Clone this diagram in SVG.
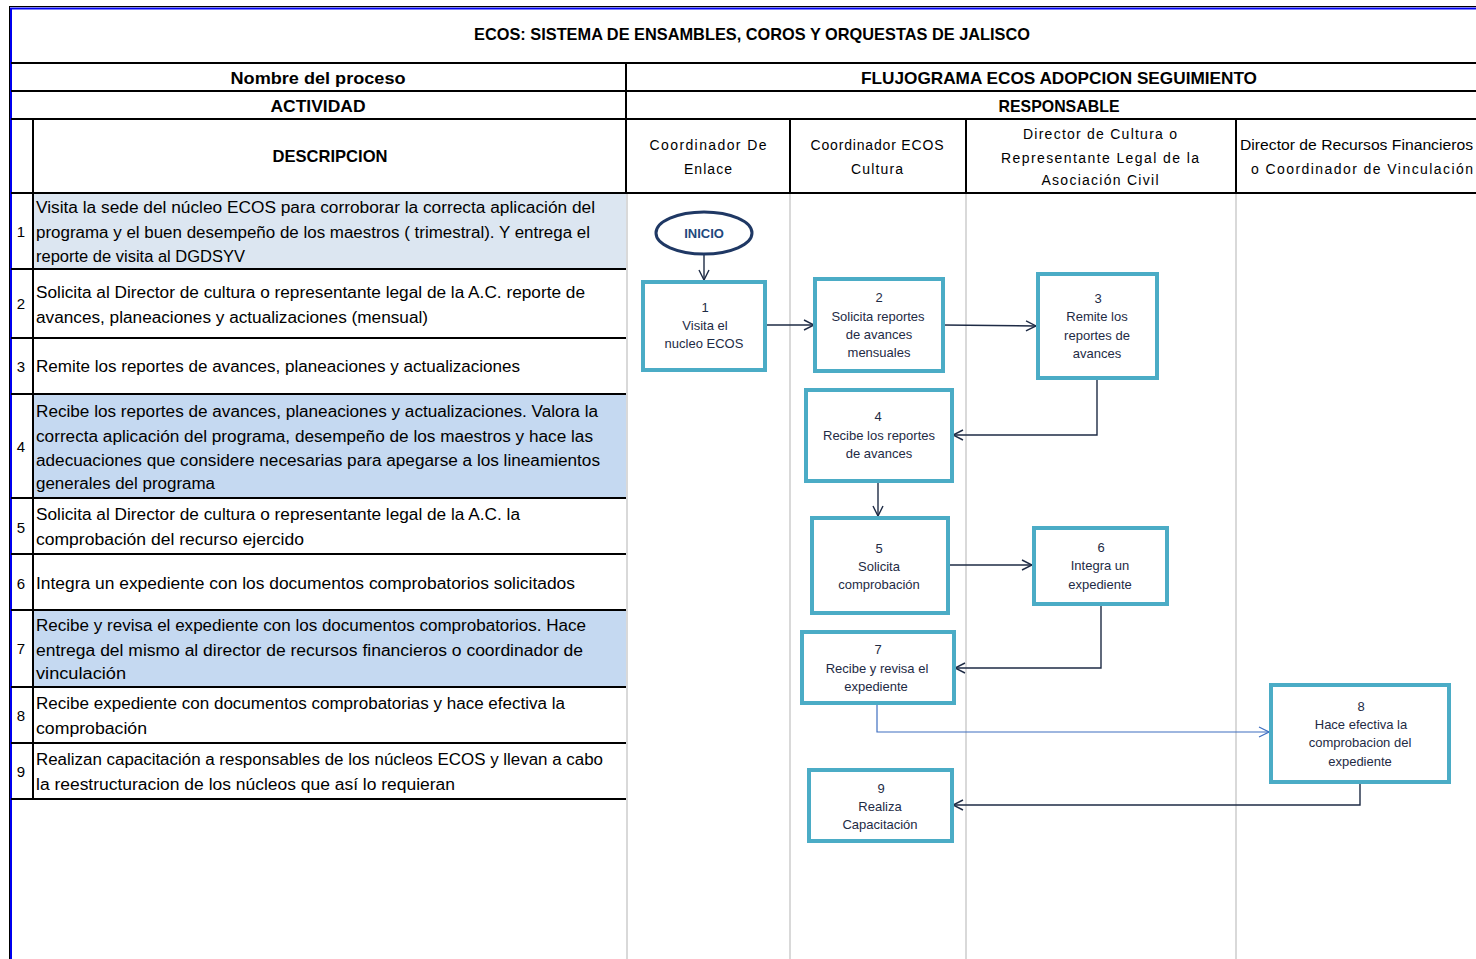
<svg xmlns="http://www.w3.org/2000/svg" width="1476" height="959" viewBox="0 0 1476 959">
<style>
.t{font-family:"Liberation Sans",Arial,sans-serif;fill:#000}
.hb{font-family:"Liberation Sans",Arial,sans-serif;font-weight:bold;font-size:17px;fill:#000;text-anchor:middle}
.d{font-family:"Liberation Sans",Arial,sans-serif;font-size:16px;fill:#000}
.n{font-family:"Liberation Sans",Arial,sans-serif;font-size:15px;fill:#000;text-anchor:middle}
.lh{font-family:"Liberation Sans",Arial,sans-serif;font-size:14px;fill:#000;text-anchor:middle}
.bx{fill:#fff;stroke:#4BACC6;stroke-width:4}
.bt{font-family:"Liberation Sans",Arial,sans-serif;font-size:13px;fill:#1e2b45;text-anchor:middle}
.g{stroke:#000;stroke-width:2;fill:none}
.lane{stroke:#d9d9d9;stroke-width:2}
.c{stroke:#1e2b45;stroke-width:1.4;fill:none}
.cb{stroke:#3F6FC0;stroke-width:1.2;fill:none}
</style>
<defs>
<marker id="ar" viewBox="0 0 12 12" refX="11" refY="6" markerWidth="12" markerHeight="12" markerUnits="userSpaceOnUse" orient="auto">
<path d="M1,1 L11,6 L1,11" fill="none" stroke="#1e2b45" stroke-width="1.4"/>
</marker>
<marker id="arb" viewBox="0 0 12 12" refX="11" refY="6" markerWidth="12" markerHeight="12" markerUnits="userSpaceOnUse" orient="auto">
<path d="M1,1 L11,6 L1,11" fill="none" stroke="#3F6FC0" stroke-width="1.2"/>
</marker>
</defs>
<rect x="0" y="0" width="1476" height="959" fill="#fff"/>

<g id="table">
<rect x="34" y="194" width="592" height="75" fill="#DCE6F1"/>
<rect x="34" y="395" width="592" height="103" fill="#C5D9F1"/>
<rect x="34" y="611" width="592" height="76" fill="#C5D9F1"/>
<line class="lane" x1="627" y1="193" x2="627" y2="959"/>
<line class="lane" x1="790" y1="193" x2="790" y2="959"/>
<line class="lane" x1="966" y1="193" x2="966" y2="959"/>
<line class="lane" x1="1236" y1="193" x2="1236" y2="959"/>
<line x1="9" y1="6.5" x2="1476" y2="6.5" stroke="#000" stroke-width="1"/>
<line x1="10" y1="8.5" x2="1476" y2="8.5" stroke="#0000EE" stroke-width="2"/>
<line x1="9.5" y1="6" x2="9.5" y2="959" stroke="#000" stroke-width="1"/>
<line x1="11" y1="8" x2="11" y2="959" stroke="#0000EE" stroke-width="2"/>
<line class="g" x1="11" y1="63" x2="1476" y2="63"/>
<line class="g" x1="11" y1="91" x2="1476" y2="91"/>
<line class="g" x1="11" y1="119" x2="1476" y2="119"/>
<line class="g" x1="11" y1="193" x2="1476" y2="193"/>
<line class="g" x1="626" y1="63" x2="626" y2="193"/>
<line class="g" x1="790" y1="119" x2="790" y2="193"/>
<line class="g" x1="966" y1="119" x2="966" y2="193"/>
<line class="g" x1="1236" y1="119" x2="1236" y2="193"/>
<line class="g" x1="33" y1="119" x2="33" y2="799"/>
<line class="g" x1="11" y1="269" x2="626" y2="269"/>
<line class="g" x1="11" y1="338" x2="626" y2="338"/>
<line class="g" x1="11" y1="394" x2="626" y2="394"/>
<line class="g" x1="11" y1="498" x2="626" y2="498"/>
<line class="g" x1="11" y1="554" x2="626" y2="554"/>
<line class="g" x1="11" y1="610" x2="626" y2="610"/>
<line class="g" x1="11" y1="687" x2="626" y2="687"/>
<line class="g" x1="11" y1="743" x2="626" y2="743"/>
<line class="g" x1="11" y1="799" x2="626" y2="799"/>

<text class="hb" x="752" y="40" textLength="556" lengthAdjust="spacingAndGlyphs">ECOS: SISTEMA DE ENSAMBLES, COROS Y ORQUESTAS DE JALISCO</text>
<text class="hb" x="318" y="84" font-size="18" textLength="175" lengthAdjust="spacingAndGlyphs">Nombre del proceso</text>
<text class="hb" x="1059" y="84" font-size="18" textLength="396" lengthAdjust="spacingAndGlyphs">FLUJOGRAMA ECOS ADOPCION SEGUIMIENTO</text>
<text class="hb" x="318" y="112" font-size="18" textLength="95" lengthAdjust="spacingAndGlyphs">ACTIVIDAD</text>
<text class="hb" x="1059" y="112" font-size="18" textLength="121" lengthAdjust="spacingAndGlyphs">RESPONSABLE</text>
<text class="hb" x="330" y="162" font-size="18" textLength="115" lengthAdjust="spacingAndGlyphs">DESCRIPCION</text>

<text class="lh" x="708" y="150" textLength="117">Coordinador De</text>
<text class="lh" x="708" y="174" textLength="48">Enlace</text>
<text class="lh" x="877" y="150" textLength="133">Coordinador ECOS</text>
<text class="lh" x="877" y="174" textLength="52">Cultura</text>
<text class="lh" x="1100" y="139" textLength="154">Director de Cultura o</text>
<text class="lh" x="1100" y="163" textLength="198">Representante Legal de la</text>
<text class="lh" x="1100" y="185" textLength="117">Asociación Civil</text>
<text class="lh" x="1240" y="150" style="text-anchor:start" textLength="233" lengthAdjust="spacingAndGlyphs">Director de Recursos Financieros</text>
<text class="lh" x="1251" y="174" style="text-anchor:start" textLength="222">o Coordinador de Vinculación</text>

<text class="n" x="21" y="237">1</text>
<text class="n" x="21" y="309">2</text>
<text class="n" x="21" y="372">3</text>
<text class="n" x="21" y="452">4</text>
<text class="n" x="21" y="533">5</text>
<text class="n" x="21" y="589">6</text>
<text class="n" x="21" y="654">7</text>
<text class="n" x="21" y="721">8</text>
<text class="n" x="21" y="777">9</text>

<text class="d" x="36" y="213" textLength="559" lengthAdjust="spacingAndGlyphs">Visita la sede del núcleo ECOS para corroborar la correcta aplicación del</text>
<text class="d" x="36" y="238" textLength="554" lengthAdjust="spacingAndGlyphs">programa y el buen desempeño de los maestros ( trimestral). Y entrega el</text>
<text class="d" x="36" y="262" textLength="209" lengthAdjust="spacingAndGlyphs">reporte de visita al DGDSYV</text>

<text class="d" x="36" y="298" textLength="549" lengthAdjust="spacingAndGlyphs">Solicita al Director de cultura o representante legal de la A.C. reporte de</text>
<text class="d" x="36" y="323" textLength="392" lengthAdjust="spacingAndGlyphs">avances, planeaciones y actualizaciones (mensual)</text>

<text class="d" x="36" y="372" textLength="484" lengthAdjust="spacingAndGlyphs">Remite los reportes de avances, planeaciones y actualizaciones</text>

<text class="d" x="36" y="417" textLength="562" lengthAdjust="spacingAndGlyphs">Recibe los reportes de avances, planeaciones y actualizaciones. Valora la</text>
<text class="d" x="36" y="442" textLength="557" lengthAdjust="spacingAndGlyphs">correcta aplicación del programa, desempeño de los maestros y hace las</text>
<text class="d" x="36" y="466" textLength="564" lengthAdjust="spacingAndGlyphs">adecuaciones que considere necesarias para apegarse a los lineamientos</text>
<text class="d" x="36" y="489" textLength="179" lengthAdjust="spacingAndGlyphs">generales del programa</text>

<text class="d" x="36" y="520" textLength="484" lengthAdjust="spacingAndGlyphs">Solicita al Director de cultura o representante legal de la A.C. la</text>
<text class="d" x="36" y="545" textLength="268" lengthAdjust="spacingAndGlyphs">comprobación del recurso ejercido</text>

<text class="d" x="36" y="589" textLength="539" lengthAdjust="spacingAndGlyphs">Integra un expediente con los documentos comprobatorios solicitados</text>

<text class="d" x="36" y="631" textLength="550" lengthAdjust="spacingAndGlyphs">Recibe y revisa el expediente con los documentos comprobatorios. Hace</text>
<text class="d" x="36" y="656" textLength="547" lengthAdjust="spacingAndGlyphs">entrega del mismo al director de recursos financieros o coordinador de</text>
<text class="d" x="36" y="679" textLength="90" lengthAdjust="spacingAndGlyphs">vinculación</text>

<text class="d" x="36" y="709" textLength="529" lengthAdjust="spacingAndGlyphs">Recibe expediente con documentos comprobatorias y hace efectiva la</text>
<text class="d" x="36" y="734" textLength="111" lengthAdjust="spacingAndGlyphs">comprobación</text>

<text class="d" x="36" y="765" textLength="567" lengthAdjust="spacingAndGlyphs">Realizan capacitación a responsables de los núcleos ECOS y llevan a cabo</text>
<text class="d" x="36" y="790" textLength="419" lengthAdjust="spacingAndGlyphs">la reestructuracion de los núcleos que así lo requieran</text>
</g>

<g id="connectors">
<line class="c" x1="704" y1="255" x2="704" y2="280" marker-end="url(#ar)"/>
<line class="c" x1="765" y1="325" x2="814" y2="325" marker-end="url(#ar)"/>
<line class="c" x1="943" y1="325" x2="1036" y2="326" marker-end="url(#ar)"/>
<polyline class="c" points="1097,378 1097,435 953,435" marker-end="url(#ar)"/>
<line class="c" x1="878" y1="481" x2="878" y2="516" marker-end="url(#ar)"/>
<line class="c" x1="948" y1="565" x2="1032" y2="565" marker-end="url(#ar)"/>
<polyline class="c" points="1101,604 1101,668 955,668" marker-end="url(#ar)"/>
<polyline class="cb" points="877,703 877,732 1269,732" marker-end="url(#arb)"/>
<polyline class="c" points="1360,782 1360,805 953,805" marker-end="url(#ar)"/>
</g>

<g id="inicio">
<ellipse cx="704" cy="233" rx="48" ry="21" fill="#fff" stroke="#1F3864" stroke-width="3"/>
<text x="704" y="238" text-anchor="middle" font-family="Liberation Sans, Arial, sans-serif" font-weight="bold" font-size="13" fill="#1F497D">INICIO</text>
</g>

<g id="n1">
<rect class="bx" x="643" y="282" width="122" height="88"/>
<text class="bt" x="705" y="312">1</text>
<text class="bt" x="705" y="330">Visita  el</text>
<text class="bt" x="704" y="348">nucleo ECOS</text>
</g>
<g id="n2">
<rect class="bx" x="815" y="279" width="128" height="92"/>
<text class="bt" x="879" y="302">2</text>
<text class="bt" x="878" y="321">Solicita reportes</text>
<text class="bt" x="879" y="339">de avances</text>
<text class="bt" x="879" y="357">mensuales</text>
</g>
<g id="n3">
<rect class="bx" x="1038" y="274" width="119" height="104"/>
<text class="bt" x="1098" y="303">3</text>
<text class="bt" x="1097" y="321">Remite los</text>
<text class="bt" x="1097" y="340">reportes de</text>
<text class="bt" x="1097" y="358">avances</text>
</g>
<g id="n4">
<rect class="bx" x="806" y="390" width="146" height="91"/>
<text class="bt" x="878" y="421">4</text>
<text class="bt" x="879" y="440">Recibe los reportes</text>
<text class="bt" x="879" y="458">de avances</text>
</g>
<g id="n5">
<rect class="bx" x="812" y="518" width="136" height="95"/>
<text class="bt" x="879" y="553">5</text>
<text class="bt" x="879" y="571">Solicita</text>
<text class="bt" x="879" y="589">comprobación</text>
</g>
<g id="n6">
<rect class="bx" x="1034" y="528" width="133" height="76"/>
<text class="bt" x="1101" y="552">6</text>
<text class="bt" x="1100" y="570">Integra un</text>
<text class="bt" x="1100" y="589">expediente</text>
</g>
<g id="n7">
<rect class="bx" x="802" y="632" width="152" height="71"/>
<text class="bt" x="878" y="654">7</text>
<text class="bt" x="877" y="673">Recibe y revisa el</text>
<text class="bt" x="876" y="691">expediente</text>
</g>
<g id="n8">
<rect class="bx" x="1271" y="685" width="178" height="97"/>
<text class="bt" x="1361" y="711">8</text>
<text class="bt" x="1361" y="729">Hace efectiva la</text>
<text class="bt" x="1360" y="747">comprobacion del</text>
<text class="bt" x="1360" y="766">expediente</text>
</g>
<g id="n9">
<rect class="bx" x="809" y="770" width="143" height="71"/>
<text class="bt" x="881" y="793">9</text>
<text class="bt" x="880" y="811">Realiza</text>
<text class="bt" x="880" y="829">Capacitación</text>
</g>
</svg>
